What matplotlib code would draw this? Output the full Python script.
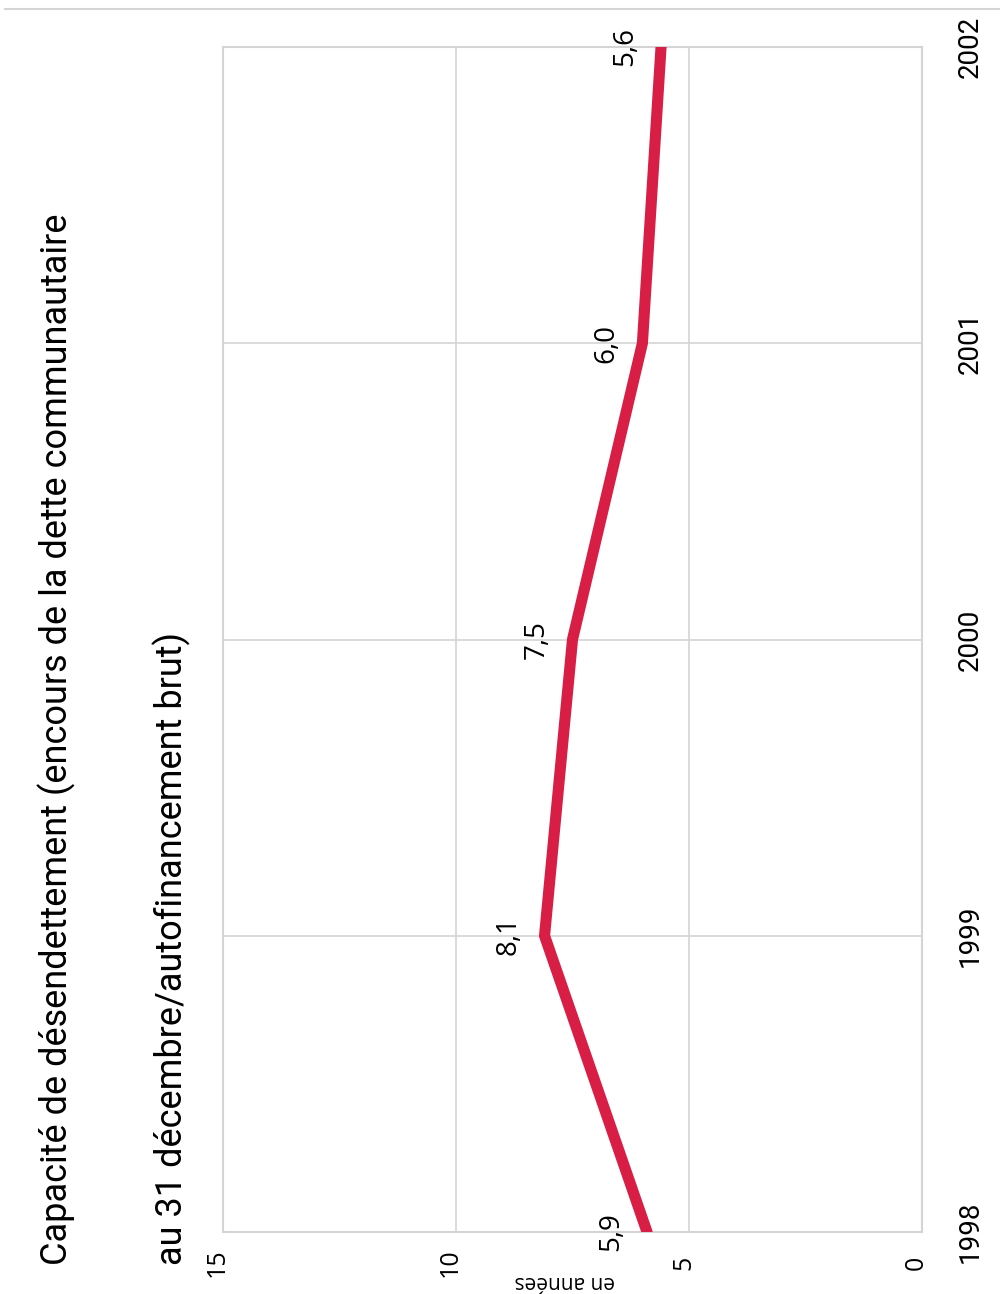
import matplotlib
matplotlib.use('Agg')
import matplotlib.pyplot as plt
from matplotlib.lines import Line2D

# Données
annees = [1998, 1999, 2000, 2001, 2002]
capacite = [5.9, 8.1, 7.5, 6.0, 5.6]
etiquettes = ['5,9', '8,1', '7,5', '6,0', '5,6']
graduations = [15, 10, 5, 0]

titre_1 = 'Capacité de désendettement (encours de la dette communautaire'
titre_2 = 'au 31 décembre/autofinancement brut)'
unite = 'en années'

police_etroite = ['Roboto', 'DejaVu Sans']
police = ['Open Sans', 'DejaVu Sans']
gris = '#d4d4d4'
rouge = '#d81e45'

W, H = 1000, 1294
fig = plt.figure(figsize=(W / 100, H / 100), dpi=100)
fig.patch.set_facecolor('white')

# Zone du graphique (tournée de 90°)
x0, x1, y0, y1 = 223, 922, 47, 1232
ax = fig.add_axes([x0 / W, 1 - y1 / H, (x1 - x0) / W, (y1 - y0) / H])
ax.set_xlim(15, 0)
ax.set_ylim(1998, 2002)
ax.set_xticks([10, 5])
ax.set_yticks(annees[1:-1])
ax.tick_params(length=0, labelbottom=False, labelleft=False)
ax.grid(True, color=gris, lw=1.2)
for s in ax.spines.values():
    s.set_color(gris)
    s.set_linewidth(1.5)

ax.plot(capacite, annees, color=rouge, lw=8, solid_capstyle='round',
        solid_joinstyle='miter', zorder=3)

# Étiquettes des valeurs
for v, a, t in zip(capacite, annees, etiquettes):
    ax.annotate(t, (v, a), xytext=(-26, 0), textcoords='offset points',
                rotation=90, rotation_mode='anchor', ha='center', va='center',
                fontsize=20, family=police, annotation_clip=False)

# Graduations des valeurs (en bas)
for g in graduations:
    ax.annotate(str(g), (g, 1998), xytext=(-4, -22), textcoords='offset points',
                rotation=90, rotation_mode='anchor', ha='center', va='center',
                fontsize=18, family=police, annotation_clip=False)

# Années (à droite)
for a in annees:
    ax.annotate(str(a), (0, a), xytext=(35, 0), textcoords='offset points',
                rotation=90, rotation_mode='anchor', ha='center', va='center',
                fontsize=20, family=police_etroite, annotation_clip=False)

# Unité
fig.text(565 / W, 1 - 1281 / H, unite, rotation=180, ha='center', va='center',
         fontsize=15, family=police)

# Titre
fig.text(57 / W, 1 - 1265 / H, titre_1, rotation=90, rotation_mode='anchor',
         ha='left', va='center', fontsize=26, family=police_etroite)
fig.text(172 / W, 1 - 1265 / H, titre_2, rotation=90, rotation_mode='anchor',
         ha='left', va='center', fontsize=26, family=police_etroite)

# Ligne en haut
fig.add_artist(Line2D([5 / W, 1], [1 - 9 / H, 1 - 9 / H], color=gris, lw=1.5))

fig.savefig('out.png', dpi=100)
